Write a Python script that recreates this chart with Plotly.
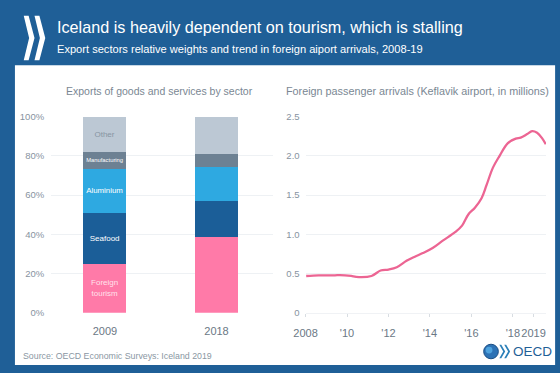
import plotly.graph_objects as go

# ---------------- data ----------------
years_bar = ["2009", "2018"]
sectors = ["Foreign tourism", "Seafood", "Aluminium", "Manufacturing", "Other"]
sector_labels = ["Foreign<br>tourism", "Seafood", "Aluminium", "Manufacturing", "Other"]
share_2009 = [25, 26, 22.5, 8.5, 18]
share_2018 = [39, 18, 17.5, 6.5, 19]
sector_colors = ["#ff7aa8", "#1b5e98", "#2ea9e1", "#6d8193", "#bcc8d4"]
label_colors = ["rgba(255,255,255,0.8)", "#ffffff", "#ffffff", "#ffffff", "#8795a2"]

arr_year = [2008.03, 2008.63, 2009.42, 2009.65, 2010.2, 2010.44, 2011.18, 2011.62,
            2012.0, 2012.4, 2012.87, 2013.27, 2013.66, 2014.13, 2014.6, 2015.23,
            2015.55, 2015.86, 2016.17, 2016.49, 2016.73, 2017.04, 2017.36, 2017.75,
            2018.14, 2018.38, 2018.69, 2018.93, 2019.17, 2019.4, 2019.59]
arr_value = [0.468, 0.476, 0.476, 0.48, 0.468, 0.456, 0.468, 0.538,
             0.55, 0.579, 0.661, 0.714, 0.76, 0.825, 0.915, 1.03,
             1.11, 1.256, 1.338, 1.46, 1.626, 1.85, 2.0, 2.16,
             2.22, 2.233, 2.278, 2.315, 2.294, 2.229, 2.147]

x_tickvals = [2008, 2010, 2012, 2014, 2016, 2018, 2019]
x_ticktext = ["2008", "'10", "'12", "'14", "'16", "'18", "2019"]
pct_ticks = [0, 20, 40, 60, 80, 100]
pct_text = ["0%", "20%", "40%", "60%", "80%", "100%"]
arr_ticks = [0, 0.5, 1.0, 1.5, 2.0, 2.5]
arr_text = ["0", "0.5", "1.0", "1.5", "2.0", "2.5"]

W, H = 560, 373
BLUE = "#1f5f97"
FONT = "Liberation Sans, Arial, sans-serif"


def px(x):
    return x / W


def py(y):
    return 1 - y / H


fig = go.Figure()

for i, name in enumerate(sectors):
    fig.add_trace(go.Bar(
        x=years_bar, y=[share_2009[i], share_2018[i]], name=name,
        marker=dict(color=sector_colors[i], line=dict(width=0)),
        text=[sector_labels[i], ""], textposition="inside", textangle=0,
        insidetextanchor="middle",
        textfont=dict(color=label_colors[i], size=8, family=FONT),
        xaxis="x", yaxis="y", width=0.386, hoverinfo="skip",
    ))

fig.add_trace(go.Scatter(
    x=arr_year, y=arr_value, mode="lines", line=dict(color="#ec6593", width=2.3, shape="spline"),
    xaxis="x2", yaxis="y2", hoverinfo="skip",
))

ydom = [py(316), py(114)]
grid = "#eef1f4"
tickc = "#8793a0"

fig.update_layout(
    width=W, height=H, margin=dict(l=0, r=0, t=0, b=0),
    paper_bgcolor=BLUE, plot_bgcolor="rgba(0,0,0,0)",
    barmode="stack", showlegend=False, bargap=0,
    font=dict(family=FONT, color=tickc),
    xaxis=dict(domain=[px(40), px(267)], type="category", range=[-0.482, 1.509],
               showgrid=False, zeroline=False, showline=False, tickangle=0,
               ticklabelstandoff=10,
               tickfont=dict(size=11, color="#6b7885"), ticks="", ticklen=0),
    yaxis=dict(domain=ydom, range=[0, 100], tickmode="array", tickvals=pct_ticks, ticktext=pct_text,
               showgrid=True, gridcolor=grid, gridwidth=1, zeroline=False,
               ticklabelstandoff=6,
               tickfont=dict(size=9.5, color=tickc), ticks="", ticklen=0),
    xaxis2=dict(domain=[px(300), px(545.7)], range=[2008, 2019.6], anchor="y2",
                tickmode="array", tickvals=x_tickvals, ticktext=x_ticktext, tickangle=0,
                showgrid=False, zeroline=False,
                showline=True, linecolor="#f0f2f5", linewidth=1,
                ticks="outside", ticklen=3, tickcolor="#d8dde2",
                ticklabelstandoff=7,
                tickfont=dict(size=11, color="#6b7885")),
    yaxis2=dict(domain=ydom, range=[0, 2.5], anchor="x2", tickmode="array",
                tickvals=arr_ticks, ticktext=arr_text,
                showgrid=True, gridcolor=grid, zeroline=False,
                ticklabelstandoff=5,
                tickfont=dict(size=9.5, color=tickc), ticks="", ticklen=0),
)

shapes = [
    # white content area
    dict(type="rect", xref="paper", yref="paper", x0=px(3), x1=px(555), y0=py(370), y1=py(61),
         fillcolor="white", line=dict(width=0), layer="below"),
]
# header chevrons
for x0 in (12, 23):
    pts = [(x0, 10), (x0 + 5, 10), (x0 + 11, 33), (x0 + 5, 56), (x0, 56), (x0 + 5.5, 33)]
    path = "M " + " L ".join(f"{px(a):.5f},{py(b):.5f}" for a, b in pts) + " Z"
    shapes.append(dict(type="path", xref="paper", yref="paper", path=path,
                       fillcolor="white", line=dict(width=0), layer="above"))
# OECD logo globe
shapes.append(dict(type="circle", xref="paper", yref="paper", x0=px(482), x1=px(497),
                   y0=py(363.5), y1=py(348.5), fillcolor="#2d72b5", line=dict(color="#1b4f85", width=1)))
shapes.append(dict(type="circle", xref="paper", yref="paper", x0=px(484), x1=px(491),
                   y0=py(358), y1=py(351), fillcolor="#4fa3de", line=dict(width=0)))
for x0 in (498, 503):
    pts = [(x0, 349), (x0 + 2, 349), (x0 + 6, 356), (x0 + 2, 363), (x0, 363), (x0 + 4, 356)]
    path = "M " + " L ".join(f"{px(a):.5f},{py(b):.5f}" for a, b in pts) + " Z"
    shapes.append(dict(type="path", xref="paper", yref="paper", path=path,
                       fillcolor="#2a7fb8", line=dict(width=0)))
fig.update_layout(shapes=shapes)

ann = [
    dict(text="Iceland is heavily dependent on tourism, which is stalling", x=px(44), y=py(22),
         xanchor="left", yanchor="middle", font=dict(size=16.2, color="white")),
    dict(text="Export sectors relative weights and trend in foreign aiport arrivals, 2008-19",
         x=px(44), y=py(44), xanchor="left", yanchor="middle", font=dict(size=11.1, color="white")),
    dict(text="Exports of goods and services by sector", x=px(151), y=py(88),
         xanchor="center", yanchor="middle", font=dict(size=10.5, color="#7a8793")),
    dict(text="Foreign passenger arrivals (Keflavik airport, in millions)", x=px(414), y=py(88),
         xanchor="center", yanchor="middle", font=dict(size=10.8, color="#7a8793")),
    dict(text="Source: OECD Economic Surveys: Iceland 2019", x=px(9), y=py(361),
         xanchor="left", yanchor="middle", font=dict(size=8.8, color="#8a97a3")),
    dict(text="OECD", x=px(510), y=py(356), xanchor="left", yanchor="middle",
         font=dict(size=13.5, color="#1f5f97")),
]
for a in ann:
    a.update(xref="paper", yref="paper", showarrow=False)
fig.update_layout(annotations=ann)

fig.write_html("out.html", config={"displayModeBar": False},
               post_script="document.body.style.margin='0';")
